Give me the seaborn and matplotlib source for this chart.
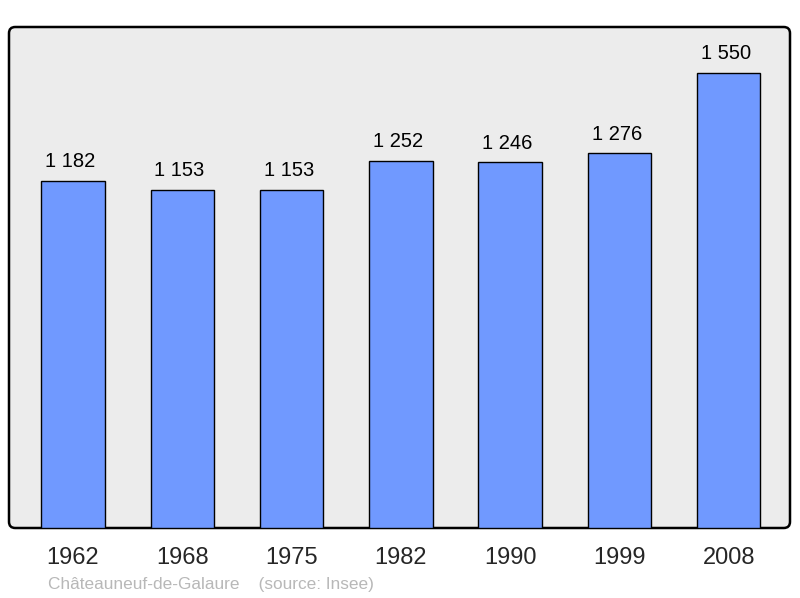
import matplotlib
matplotlib.use("Agg")
import matplotlib.pyplot as plt
import seaborn as sns
import pandas as pd
from matplotlib.patches import FancyBboxPatch

years = ["1962", "1968", "1975", "1982", "1990", "1999", "2008"]
population = [1182, 1153, 1153, 1252, 1246, 1276, 1550]
value_labels = ["1 182", "1 153", "1 153", "1 252", "1 246", "1 276", "1 550"]
caption = "Châteauneuf-de-Galaure    (source: Insee)"

sns.set_style("white")
plt.rcParams["font.family"] = ["Liberation Sans", "DejaVu Sans"]

df = pd.DataFrame({"year": years, "pop": population})

fig = plt.figure(figsize=(8, 5.98), dpi=100)
ax = fig.add_axes([9/800, 70/598, 781/800, 501/598])

bg = FancyBboxPatch((0, 0), 1, 1, boxstyle="round,pad=0,rounding_size=0.008",
                    transform=ax.transAxes, facecolor="#ececec", edgecolor="black",
                    linewidth=1.8, zorder=0, clip_on=False, mutation_aspect=781/501)
ax.add_patch(bg)
ax.set_facecolor("none")

sns.barplot(data=df, x="year", y="pop", ax=ax, color="#7099ff", saturation=1,
            width=0.58, edgecolor="black", linewidth=1.0, zorder=2)

ax.set_xlim(-0.585, 6.56)
ax.set_ylim(0, 1707)
for s in ax.spines.values():
    s.set_visible(False)
ax.set_yticks([])
ax.set_xlabel("")
ax.set_ylabel("")
ax.tick_params(axis="x", length=0, labelsize=17, pad=13.5)

for i, (v, lab) in enumerate(zip(population, value_labels)):
    ax.annotate(lab, (i, v), xytext=(-2, 7), textcoords="offset points",
                ha="center", va="bottom", fontsize=14.5, color="black")

fig.text(48/800, 1 - 584/598, caption, ha="left", va="center",
         fontsize=12.4, color="#b8b8b8")

fig.savefig("out.png", dpi=100)
